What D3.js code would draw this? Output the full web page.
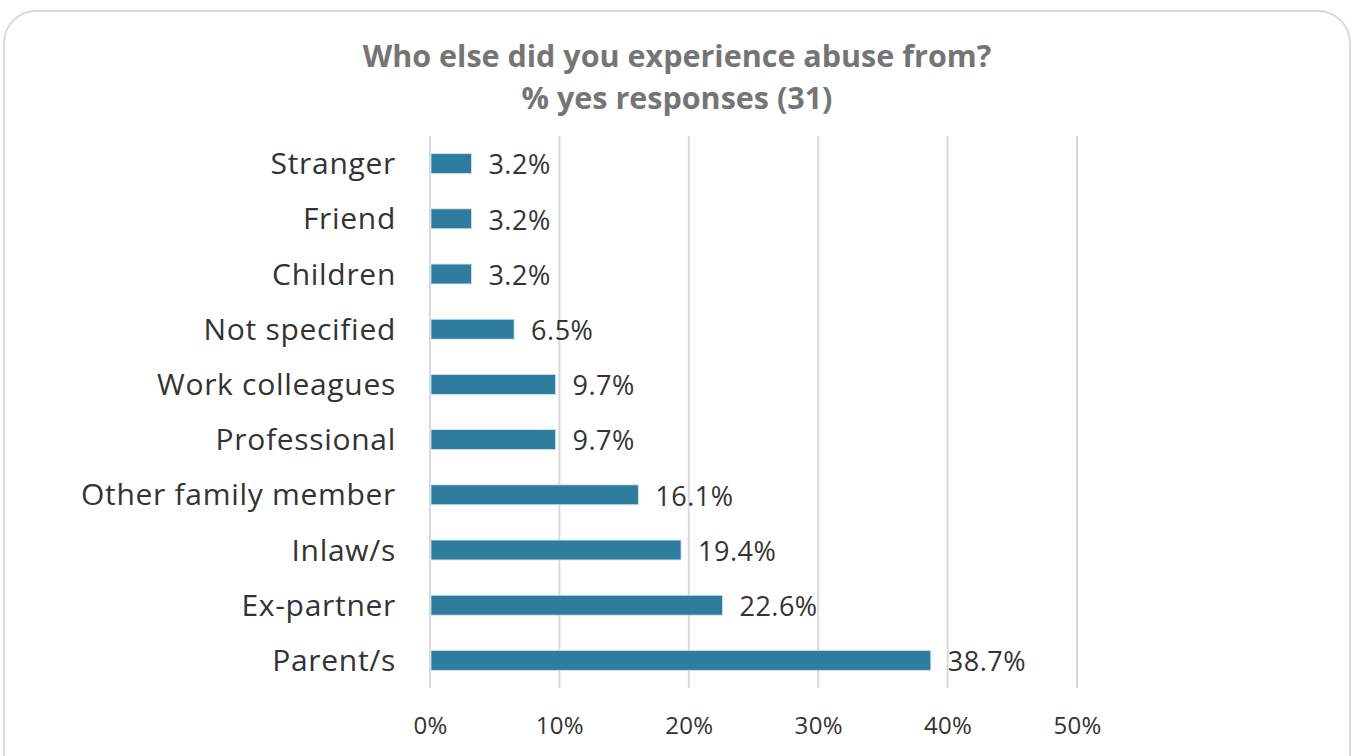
<!DOCTYPE html>
<html>
<head>
<meta charset="utf-8">
<script src="https://cdn.jsdelivr.net/npm/d3@7"></script>
<style>
  html, body { margin: 0; padding: 0; background: #fff; }
  svg { display: block; }
</style>
</head>
<body>
<svg id="chart" width="1354" height="756"></svg>
<script>
// Abuse sources, top to bottom
const categories = ["Stranger", "Friend", "Children", "Not specified", "Work colleagues",
  "Professional", "Other family member", "Inlaw/s", "Ex-partner", "Parent/s"];
const values = [3.2, 3.2, 3.2, 6.5, 9.7, 9.7, 16.1, 19.4, 22.6, 38.7];
const ticks = [0, 10, 20, 30, 40, 50];
const titleLines = ["Who else did you experience abuse from?", "% yes responses (31)"];

const svg = d3.select("#chart");
const font = "'Open Sans', 'Noto Sans', sans-serif";

// Rounded card outline
svg.append("rect")
  .attr("x", 4).attr("y", 11)
  .attr("width", 1346).attr("height", 780)
  .attr("rx", 32).attr("ry", 32)
  .attr("fill", "#fff")
  .attr("stroke", "#d9d9d9")
  .attr("stroke-width", 2);

// Title
svg.append("text")
  .attr("x", 677).attr("y", 67)
  .attr("text-anchor", "middle")
  .attr("font-family", font)
  .attr("font-weight", 700)
  .attr("font-size", 30.5)
  .attr("fill", "#757575")
  .selectAll("tspan")
  .data(titleLines)
  .join("tspan")
  .attr("x", 677)
  .attr("dy", (d, i) => i === 0 ? 0 : 42)
  .text(d => d);

const x = d3.scaleLinear().domain([0, 50]).range([430, 1077]);
const y = d3.scaleBand().domain(categories).range([136, 688])
  .paddingInner(0.64).paddingOuter(0.32);

// Vertical gridlines
svg.append("g")
  .selectAll("line")
  .data(ticks)
  .join("line")
  .attr("x1", d => x(d)).attr("x2", d => x(d))
  .attr("y1", 136).attr("y2", 688)
  .attr("stroke", "#d9d9d9")
  .attr("stroke-width", 2);

// X tick labels
const xAxis = d3.axisBottom(x).tickValues(ticks).tickFormat(d => d + "%").tickSize(0).tickPadding(0);
const gx = svg.append("g").attr("transform", "translate(0,717)").call(xAxis);
gx.select(".domain").remove();
gx.selectAll("text")
  .attr("font-family", font)
  .attr("font-size", 24)
  .attr("letter-spacing", 0.3)
  .attr("fill", "#333");

// Category labels
const yAxis = d3.axisLeft(y).tickSize(0).tickPadding(0);
const gy = svg.append("g").attr("transform", "translate(396,1)").call(yAxis);
gy.select(".domain").remove();
gy.selectAll("text")
  .attr("font-family", font)
  .attr("font-size", 30)
  .attr("letter-spacing", 0.7)
  .attr("fill", "#333");

// Bars
svg.append("g")
  .selectAll("rect")
  .data(categories)
  .join("rect")
  .attr("x", x(0) + 1)
  .attr("y", d => y(d))
  .attr("width", (d, i) => x(values[i]) - x(0) - 1)
  .attr("height", y.bandwidth())
  .attr("fill", "#2e7d9e")
  .attr("stroke", "#cfe3ec")
  .attr("stroke-width", 0.8);

// Value labels
svg.append("g")
  .selectAll("text")
  .data(categories)
  .join("text")
  .attr("x", (d, i) => x(values[i]) + 17)
  .attr("y", d => y(d) + y.bandwidth() / 2 + 1)
  .attr("dy", "0.36em")
  .attr("font-family", font)
  .attr("font-size", 27)
  .attr("letter-spacing", 0.5)
  .attr("fill", "#333")
  .text((d, i) => values[i].toFixed(1) + "%");
</script>
</body>
</html>
